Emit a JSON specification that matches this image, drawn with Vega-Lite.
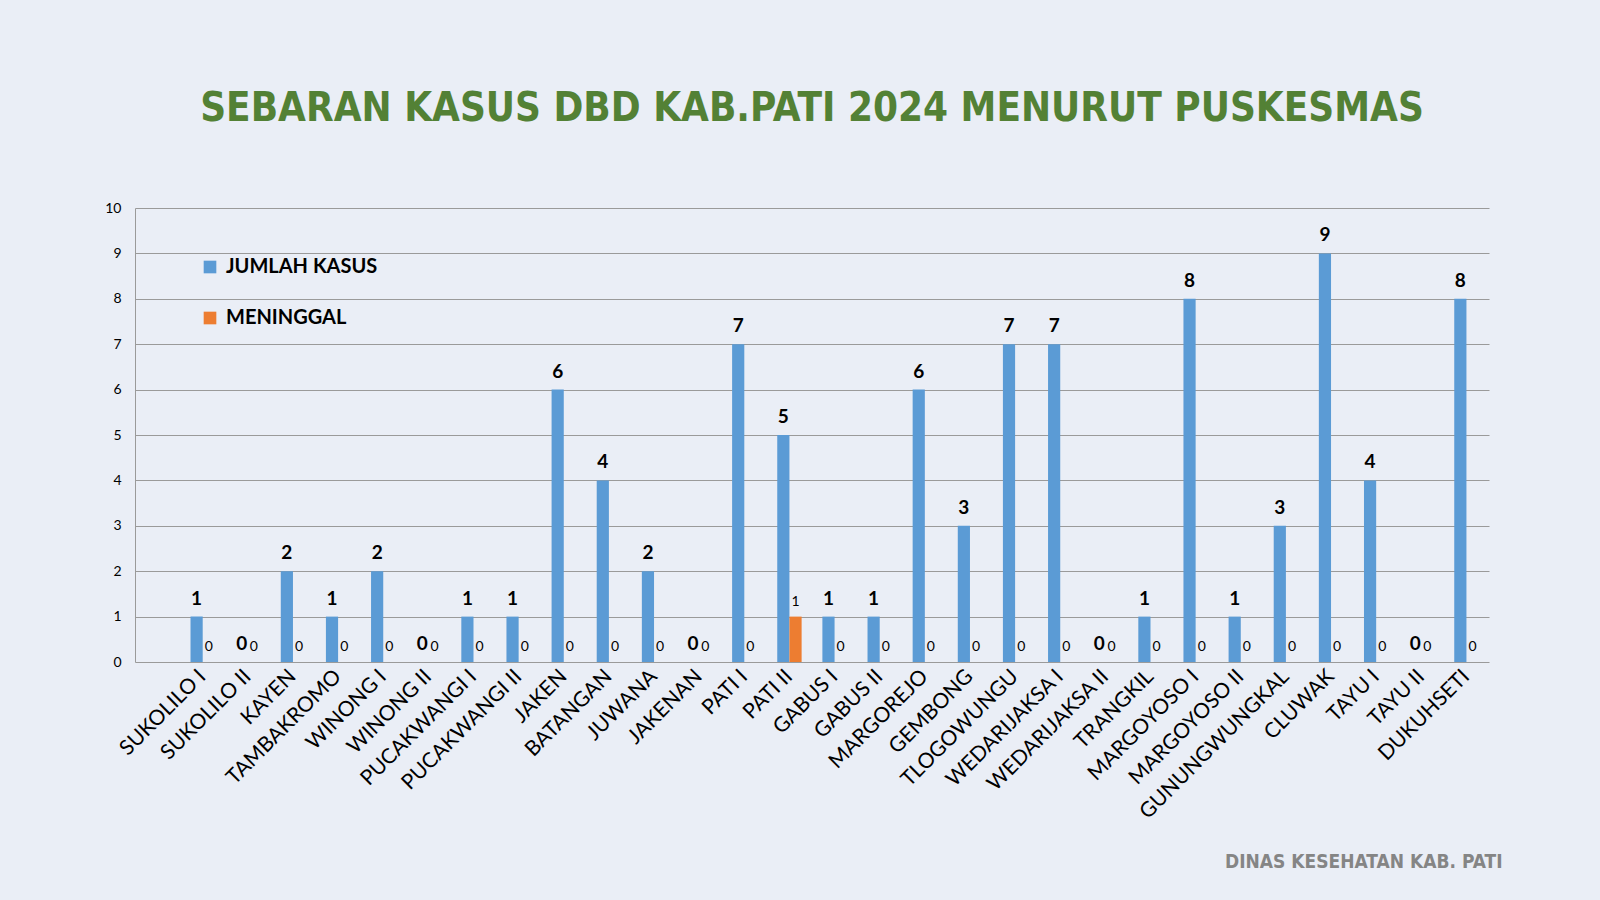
{
  "$schema": "https://vega.github.io/schema/vega-lite/v6.json",
  "width": 1354,
  "height": 454,
  "autosize": {"type": "none"},
  "padding": {"left": 135, "top": 208, "right": 111, "bottom": 238},
  "background": "#eaeef6",
  "title": {
    "text": "SEBARAN KASUS DBD KAB.PATI 2024 MENURUT PUSKESMAS",
    "font": "DejaVu Sans Condensed, DejaVu Sans, sans-serif",
    "fontSize": 40,
    "fontWeight": "bold",
    "color": "#538135",
    "anchor": "middle",
    "offset": 32,
    "baseline": "bottom"
  },
  "data": {
    "values": [
      {"puskesmas": "SUKOLILO I", "JUMLAH KASUS": 1, "MENINGGAL": 0},
      {"puskesmas": "SUKOLILO II", "JUMLAH KASUS": 0, "MENINGGAL": 0},
      {"puskesmas": "KAYEN", "JUMLAH KASUS": 2, "MENINGGAL": 0},
      {"puskesmas": "TAMBAKROMO", "JUMLAH KASUS": 1, "MENINGGAL": 0},
      {"puskesmas": "WINONG I", "JUMLAH KASUS": 2, "MENINGGAL": 0},
      {"puskesmas": "WINONG II", "JUMLAH KASUS": 0, "MENINGGAL": 0},
      {"puskesmas": "PUCAKWANGI I", "JUMLAH KASUS": 1, "MENINGGAL": 0},
      {"puskesmas": "PUCAKWANGI II", "JUMLAH KASUS": 1, "MENINGGAL": 0},
      {"puskesmas": "JAKEN", "JUMLAH KASUS": 6, "MENINGGAL": 0},
      {"puskesmas": "BATANGAN", "JUMLAH KASUS": 4, "MENINGGAL": 0},
      {"puskesmas": "JUWANA", "JUMLAH KASUS": 2, "MENINGGAL": 0},
      {"puskesmas": "JAKENAN", "JUMLAH KASUS": 0, "MENINGGAL": 0},
      {"puskesmas": "PATI I", "JUMLAH KASUS": 7, "MENINGGAL": 0},
      {"puskesmas": "PATI II", "JUMLAH KASUS": 5, "MENINGGAL": 1},
      {"puskesmas": "GABUS I", "JUMLAH KASUS": 1, "MENINGGAL": 0},
      {"puskesmas": "GABUS II", "JUMLAH KASUS": 1, "MENINGGAL": 0},
      {"puskesmas": "MARGOREJO", "JUMLAH KASUS": 6, "MENINGGAL": 0},
      {"puskesmas": "GEMBONG", "JUMLAH KASUS": 3, "MENINGGAL": 0},
      {"puskesmas": "TLOGOWUNGU", "JUMLAH KASUS": 7, "MENINGGAL": 0},
      {"puskesmas": "WEDARIJAKSA I", "JUMLAH KASUS": 7, "MENINGGAL": 0},
      {"puskesmas": "WEDARIJAKSA II", "JUMLAH KASUS": 0, "MENINGGAL": 0},
      {"puskesmas": "TRANGKIL", "JUMLAH KASUS": 1, "MENINGGAL": 0},
      {"puskesmas": "MARGOYOSO I", "JUMLAH KASUS": 8, "MENINGGAL": 0},
      {"puskesmas": "MARGOYOSO II", "JUMLAH KASUS": 1, "MENINGGAL": 0},
      {"puskesmas": "GUNUNGWUNGKAL", "JUMLAH KASUS": 3, "MENINGGAL": 0},
      {"puskesmas": "CLUWAK", "JUMLAH KASUS": 9, "MENINGGAL": 0},
      {"puskesmas": "TAYU I", "JUMLAH KASUS": 4, "MENINGGAL": 0},
      {"puskesmas": "TAYU II", "JUMLAH KASUS": 0, "MENINGGAL": 0},
      {"puskesmas": "DUKUHSETI", "JUMLAH KASUS": 8, "MENINGGAL": 0}
    ]
  },
  "transform": [
    {"fold": ["JUMLAH KASUS", "MENINGGAL"], "as": ["series", "value"]}
  ],
  "encoding": {
    "x": {
      "field": "puskesmas",
      "type": "nominal",
      "sort": null,
      "scale": {"paddingInner": 0.46, "paddingOuter": 0.73, "align": 0.8425},
      "axis": {
        "title": "DINAS KESEHATAN KAB. PATI",
        "titleFont": "DejaVu Sans Condensed, DejaVu Sans, sans-serif",
        "titleFontSize": 19,
        "titleFontWeight": "bold",
        "titleColor": "#858585",
        "titleAnchor": "end",
        "titleAlign": "right",
        "titleX": 1367,
        "titleY": 209,
        "titleBaseline": "bottom",
        "labelAngle": -45,
        "labelAlign": "right",
        "labelBaseline": "middle",
        "labelFont": "Lato",
        "labelFontSize": 21,
        "labelColor": "#000000",
        "labelPadding": 11,
        "labelLimit": 400,
        "ticks": false,
        "domain": false,
        "labelOverlap": false
      }
    },
    "xOffset": {"field": "series", "type": "nominal", "scale": {"domain": ["JUMLAH KASUS", "MENINGGAL"], "paddingInner": 0, "paddingOuter": 0}},
    "y": {
      "field": "value",
      "type": "quantitative",
      "scale": {"domain": [0, 10], "nice": false},
      "axis": {
        "title": null,
        "values": [0, 1, 2, 3, 4, 5, 6, 7, 8, 9, 10],
        "labelFont": "Lato",
        "labelFontSize": 14,
        "labelColor": "#000000",
        "labelPadding": 14,
        "ticks": false,
        "domain": true,
        "domainColor": "#9a9a9a",
        "gridColor": "#9a9a9a",
        "gridWidth": 1
      }
    }
  },
  "layer": [
    {
      "mark": {"type": "bar"},
      "encoding": {
        "color": {
          "field": "series",
          "type": "nominal",
          "scale": {"domain": ["JUMLAH KASUS", "MENINGGAL"], "range": ["#5b9bd5", "#ed7d31"]},
          "legend": {
            "title": null,
            "orient": "none",
            "legendX": 65,
            "legendY": 49,
            "symbolType": "square",
            "symbolSize": 160,
            "symbolStrokeWidth": 0,
            "labelFont": "Lato",
            "labelFontSize": 20,
            "labelFontWeight": "bold",
            "labelColor": "#000000",
            "labelOffset": 6,
            "rowPadding": 31
          }
        }
      }
    },
    {
      "transform": [{"filter": "datum.series === 'JUMLAH KASUS'"}],
      "mark": {"type": "text", "font": "Lato", "fontSize": 19, "fontWeight": "bold", "color": "#000000", "baseline": "bottom", "dy": -8},
      "encoding": {"text": {"field": "value", "type": "quantitative"}}
    },
    {
      "transform": [{"filter": "datum.series === 'MENINGGAL'"}],
      "mark": {"type": "text", "font": "Lato", "fontSize": 14, "color": "#000000", "baseline": "bottom", "dy": -8},
      "encoding": {"text": {"field": "value", "type": "quantitative"}}
    }
  ],
  "config": {
    "view": {"stroke": null}
  }
}
